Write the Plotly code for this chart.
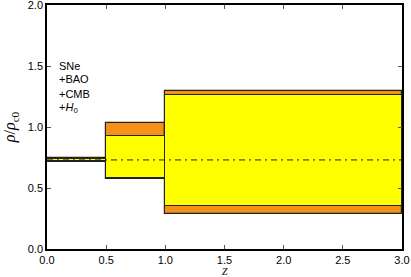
import plotly.graph_objects as go

# redshift bins
bin_left = [0.0, 0.5, 1.0]
bin_right = [0.5, 1.0, 3.0]
# outer (orange) band
outer_lo = [0.713, 0.570, 0.290]
outer_hi = [0.746, 1.030, 1.297]
# inner (yellow) band
inner_lo = [0.718, 0.580, 0.352]
inner_hi = [0.741, 0.926, 1.262]
# fiducial value
fid = 0.73
labels = ["SNe", "+BAO", "+CMB", "+<i>H</i><sub>0</sub>"]
label_y = [1.5, 1.39, 1.27, 1.155]

widths = [r - l for l, r in zip(bin_left, bin_right)]

fig = go.Figure()
fig.add_trace(go.Bar(
    x=bin_left, width=widths, offset=0,
    base=outer_lo, y=[h - l for h, l in zip(outer_hi, outer_lo)],
    marker=dict(color="#F39118", line=dict(color="#222222", width=1.2)),
    showlegend=False, hoverinfo="skip"))
fig.add_trace(go.Bar(
    x=bin_left, width=widths, offset=0,
    base=inner_lo, y=[h - l for h, l in zip(inner_hi, inner_lo)],
    marker=dict(color="#FFFF00", line=dict(color="#222222", width=1.0)),
    showlegend=False, hoverinfo="skip"))
fig.add_trace(go.Scatter(
    x=[0.0, 3.0], y=[fid, fid], mode="lines",
    line=dict(color="#222222", width=1, dash="6px,4px,2px,4px"),
    showlegend=False, hoverinfo="skip"))

for txt, ly in zip(labels, label_y):
    fig.add_annotation(
        x=0.085, y=ly, xref="x", yref="y", xanchor="left", yanchor="middle",
        text=txt, showarrow=False, align="left",
        font=dict(family="Liberation Sans, Arial", size=11, color="black"))

# x-axis title as annotation so it can sit below the tick labels
fig.add_annotation(
    x=0.5, y=0, xref="paper", yref="paper", xanchor="center", yanchor="middle",
    yshift=-21, text="<i>z</i>", showarrow=False,
    font=dict(family="Liberation Serif, serif", size=15, color="#333333"))

axis_common = dict(
    showgrid=False, zeroline=False, showline=True, linecolor="black",
    linewidth=1.5, mirror="ticks", ticks="inside", ticklen=4,
    tickcolor="#555555", tickwidth=1, automargin=False,
    ticklabeloverflow="allow",
    tickfont=dict(family="Liberation Sans, Arial", size=11, color="black"))

fig.update_layout(
    width=411, height=277,
    margin=dict(l=47, r=9, t=5, b=28),
    plot_bgcolor="white", paper_bgcolor="white",
    barmode="overlay", bargap=0,
    xaxis=dict(range=[0, 3], dtick=0.5, tickformat=".1f", **axis_common),
    yaxis=dict(range=[0, 2], dtick=0.5, tickformat=".1f",
               title=dict(text="<i>ρ</i>/<i>ρ</i><sub>c0</sub>", standoff=8,
                          font=dict(family="Liberation Serif, serif", size=16, color="black")),
               **axis_common),
)

fig.write_html("out.html", config={"displayModeBar": False},
               post_script="document.body.style.margin='0';document.body.style.overflow='hidden';")
